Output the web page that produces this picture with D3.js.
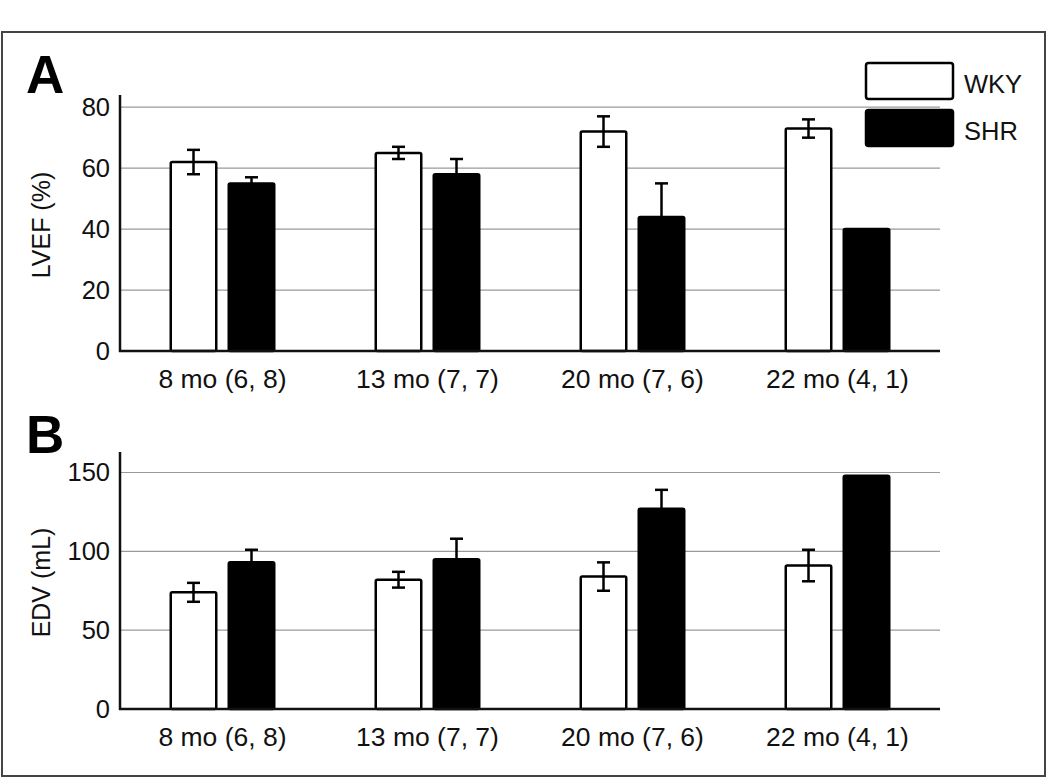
<!DOCTYPE html>
<html>
<head>
<meta charset="utf-8">
<script src="https://cdn.jsdelivr.net/npm/d3@7"></script>
<style>
  html, body { margin: 0; padding: 0; background: #fff; }
  svg { display: block; font-family: "Liberation Sans", Arial, sans-serif; }
</style>
</head>
<body>
<svg id="chart" width="1050" height="778"></svg>
<script>
// ---- data ----
const categories = ["8 mo (6, 8)", "13 mo (7, 7)", "20 mo (7, 6)", "22 mo (4, 1)"];
const series = ["WKY", "SHR"];

const lvefWKY = [62, 65, 72, 73];
const lvefWKYErr = [4, 2, 5, 3];
const lvefSHR = [55, 58, 44, 40];
const lvefSHRErr = [2, 5, 11, 0];

const edvWKY = [74, 82, 84, 91];
const edvWKYErr = [6, 5, 9, 10];
const edvSHR = [93, 95, 127, 148];
const edvSHRErr = [8, 13, 12, 0];

const lvefTicks = [0, 20, 40, 60, 80];
const edvTicks = [0, 50, 100, 150];

const panels = [
  { letter: "A", title: "LVEF (%)", wky: lvefWKY, wkyErr: lvefWKYErr, shr: lvefSHR, shrErr: lvefSHRErr,
    ticks: lvefTicks, yMax: 84, top: 95, bottom: 351 },
  { letter: "B", title: "EDV (mL)", wky: edvWKY, wkyErr: edvWKYErr, shr: edvSHR, shrErr: edvSHRErr,
    ticks: edvTicks, yMax: 163, top: 452, bottom: 709 }
];

const svg = d3.select("#chart");
const left = 120, right = 940;
const fills = { WKY: "#fff", SHR: "#000" };

// outer frame
svg.append("rect").attr("x", 2).attr("y", 32).attr("width", 1043).attr("height", 744)
  .attr("fill", "none").attr("stroke", "#444").attr("stroke-width", 2);

const x0 = d3.scaleBand().domain(categories).range([left, right]).padding(0);
const x1 = d3.scaleBand().domain(series).range([-53, 53]).paddingInner(10 / 58).paddingOuter(0);

panels.forEach(p => {
  const y = d3.scaleLinear().domain([0, p.yMax]).range([p.bottom, p.top]);
  const g = svg.append("g");

  // gridlines
  g.selectAll("line.grid").data(p.ticks.filter(t => t > 0)).join("line")
    .attr("x1", left).attr("x2", right)
    .attr("y1", d => y(d)).attr("y2", d => y(d))
    .attr("stroke", "#9a9a9a").attr("stroke-width", 1.2);

  // y axis tick labels via d3 axis
  const yAxis = d3.axisLeft(y).tickValues(p.ticks).tickSize(0).tickPadding(10);
  const ya = g.append("g").attr("transform", `translate(${left},0)`).call(yAxis);
  ya.select(".domain").remove();
  ya.selectAll("text").attr("font-size", 25.5).attr("fill", "#111")
    .attr("font-family", "Liberation Sans, Arial, sans-serif");

  // x axis labels via d3 axis
  const xAxis = d3.axisBottom(x0).tickSize(0).tickPadding(18);
  const xa = g.append("g").attr("transform", `translate(0,${p.bottom})`).call(xAxis);
  xa.select(".domain").remove();
  xa.selectAll("text").attr("font-size", 26.5).attr("fill", "#111")
    .attr("font-family", "Liberation Sans, Arial, sans-serif");

  // bars
  const rows = categories.map((c, i) => [
    { cat: c, s: "WKY", v: p.wky[i], e: p.wkyErr[i] },
    { cat: c, s: "SHR", v: p.shr[i], e: p.shrErr[i] }
  ]).flat();

  g.selectAll("rect.bar").data(rows).join("rect")
    .attr("x", d => x0(d.cat) + x0.bandwidth() / 2 + x1(d.s) + 1.25)
    .attr("width", x1.bandwidth() - 2.5)
    .attr("y", d => y(d.v))
    .attr("height", d => p.bottom - y(d.v))
    .attr("fill", d => fills[d.s])
    .attr("stroke", "#000").attr("stroke-width", 2.5)
    .attr("rx", 1.5);

  // error bars
  const errs = rows.filter(d => d.e > 0);
  const cx = d => x0(d.cat) + x0.bandwidth() / 2 + x1(d.s) + x1.bandwidth() / 2;
  const eg = g.selectAll("g.err").data(errs).join("g");
  eg.append("line")
    .attr("x1", cx).attr("x2", cx)
    .attr("y1", d => y(d.v + d.e)).attr("y2", d => y(d.v - d.e))
    .attr("stroke", "#000").attr("stroke-width", 2.5);
  eg.append("line")
    .attr("x1", d => cx(d) - 6.5).attr("x2", d => cx(d) + 6.5)
    .attr("y1", d => y(d.v + d.e)).attr("y2", d => y(d.v + d.e))
    .attr("stroke", "#000").attr("stroke-width", 2.5);
  eg.append("line")
    .attr("x1", d => cx(d) - 6.5).attr("x2", d => cx(d) + 6.5)
    .attr("y1", d => y(d.v - d.e)).attr("y2", d => y(d.v - d.e))
    .attr("stroke", "#000").attr("stroke-width", 2.5);

  // axis lines
  g.append("line").attr("x1", left).attr("x2", left).attr("y1", p.top).attr("y2", p.bottom + 1)
    .attr("stroke", "#111").attr("stroke-width", 2.5);
  g.append("line").attr("x1", left - 1).attr("x2", right).attr("y1", p.bottom).attr("y2", p.bottom)
    .attr("stroke", "#111").attr("stroke-width", 2.5);

  // y title
  g.append("text")
    .attr("transform", `translate(${50},${(p.top + p.bottom) / 2 + 2}) rotate(-90)`)
    .attr("text-anchor", "middle").attr("font-size", 25).attr("fill", "#111")
    .text(p.title);

  // panel letter
  g.append("text").attr("x", 26).attr("y", p.letter === "A" ? 93 : 453)
    .attr("font-size", 53).attr("font-weight", "bold").attr("fill", "#000")
    .text(p.letter);
});

// legend
const legend = svg.append("g");
const legItems = [{ s: "WKY", y: 63 }, { s: "SHR", y: 110 }];
legend.selectAll("rect").data(legItems).join("rect")
  .attr("x", 866).attr("y", d => d.y).attr("width", 87).attr("height", 36)
  .attr("rx", 2.5).attr("fill", d => fills[d.s]).attr("stroke", "#000").attr("stroke-width", 2.5);
legend.selectAll("text").data(legItems).join("text")
  .attr("x", 964).attr("y", d => d.y + 30)
  .attr("font-size", 25.5).attr("fill", "#111")
  .text(d => d.s);
</script>
</body>
</html>
